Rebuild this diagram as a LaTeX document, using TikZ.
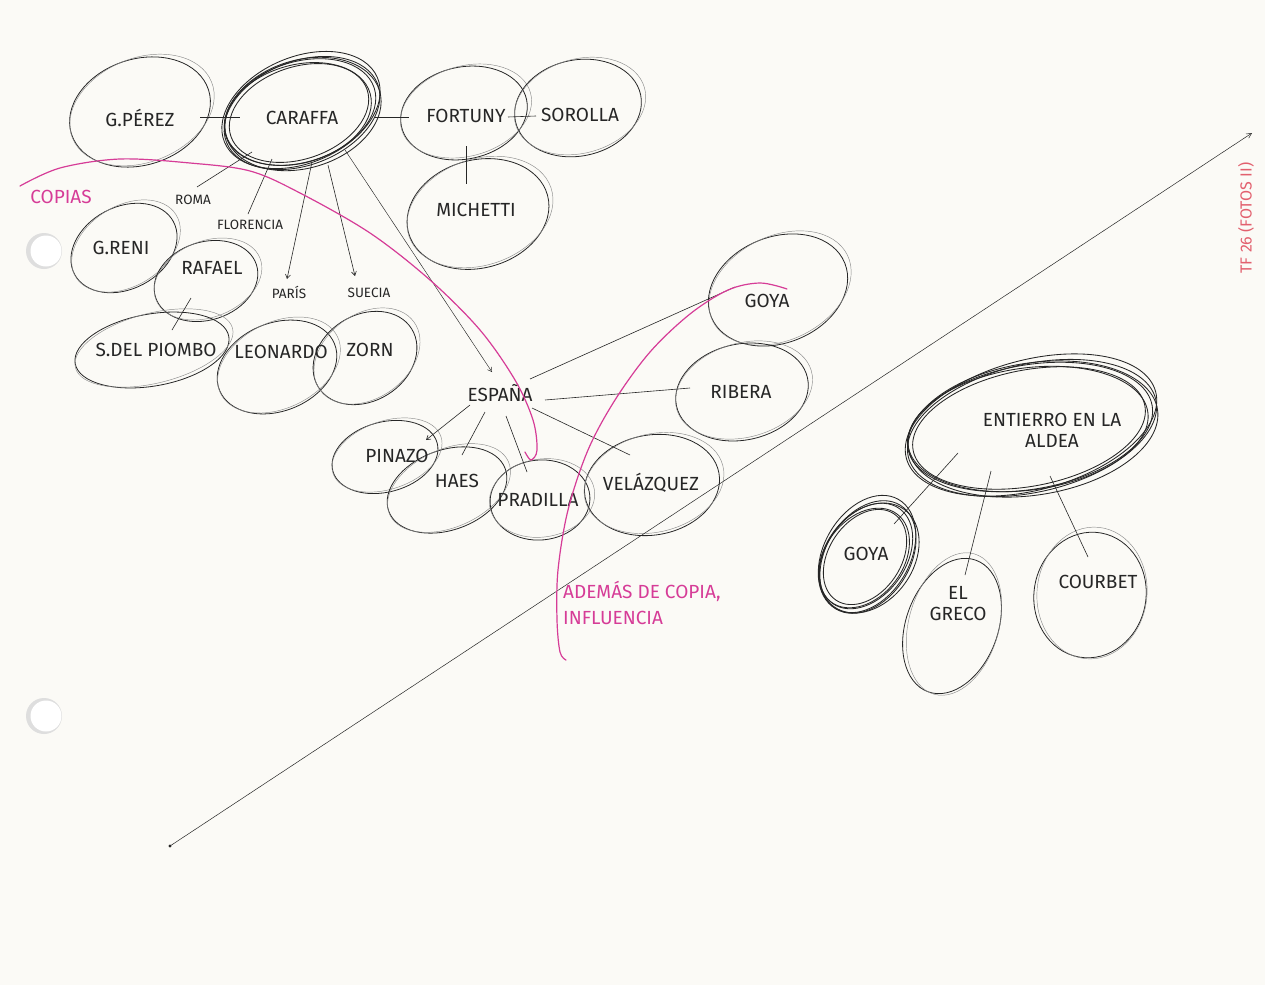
\documentclass[tikz,border=0pt]{standalone}
\usepackage{fontspec}
\setmainfont{Fira Sans}
\usetikzlibrary{arrows.meta}
\definecolor{paper}{HTML}{FBFAF6}
\definecolor{ink}{HTML}{262626}
\definecolor{inkfaint}{HTML}{8C8C8C}
\definecolor{marker}{HTML}{D63C97}
\definecolor{redpen}{HTML}{E2606E}
\tikzset{
  pen/.style={draw=ink, line width=0.8pt},
  ghost/.style={draw=inkfaint, line width=0.45pt},
  wire/.style={draw=ink, line width=0.6pt},
  tip/.style={-{Straight Barb[length=4pt,width=5pt]}},
  label/.style={font=\fontsize{19}{21}\selectfont, text=ink, inner sep=1pt},
  place/.style={font=\fontsize{13.5}{15}\selectfont, text=ink, inner sep=1pt},
  hl/.style={draw=marker, line width=1.2pt, line cap=round},
  hltext/.style={font=\fontsize{19}{22}\selectfont, text=marker, inner sep=1pt},
}
% a hand-drawn bubble: centre x, centre y, x radius, y radius, tilt
\newcommand\bubble[5]{%
  \draw[pen, rotate around={#5:(#1,#2)}] (#1,#2) ellipse [x radius=#3, y radius=#4];
  \draw[ghost, rotate around={#5+4:(#1+2,#2-2)}] (#1+2,#2-2) ellipse [x radius=#3+3, y radius=#4-1];
}
% a bubble gone over several times
\newcommand\heavybubble[5]{%
  \foreach \dx/\dy/\da/\drx/\dry in {0/0/0/0/0, 2/1/3/3/2, -2/2/-2/-3/-1, 1/-2/5/5/3, -1/1/1/-6/-4, 3/2/-1/2/4}{
    \draw[pen, line width=0.85pt, rotate around={#5+\da:(#1+\dx,#2+\dy)}] (#1+\dx,#2+\dy) ellipse [x radius=#3+\drx, y radius=#4+\dry];
  }
}
\begin{document}
\begin{tikzpicture}[x=1pt, y=-1pt]
\useasboundingbox (0,0) rectangle (1265,985);
\fill[paper] (0,0) rectangle (1265,985);

% punched holes of the sheet
\foreach \hy in {251,716}{
  \fill[black!13] (44,\hy) circle (18);
  \fill[white] (46,\hy) circle (15.5);
}

% ---------- bubbles ----------
\bubble{140}{112}{72}{53}{18}
\heavybubble{300}{112}{78}{50}{18}
\bubble{464}{113}{64}{46}{12}
\bubble{578}{108}{64}{48}{12}
\bubble{478}{214}{72}{54}{15}
\bubble{124}{248}{56}{41}{28}
\bubble{206}{281}{53}{39}{18}
\bubble{152}{350}{78}{36}{10}
\bubble{277}{367}{62}{44}{22}
\bubble{365}{358}{55}{43}{32}
\bubble{778}{290}{72}{53}{22}
\bubble{742}{392}{67}{48}{12}
\bubble{385}{457}{54}{35}{15}
\bubble{447}{490}{62}{40}{20}
\bubble{540}{500}{50}{40}{5}
\bubble{652}{485}{68}{50}{10}
\heavybubble{1030}{427}{124}{62}{10}
\heavybubble{866}{556}{58}{40}{55}
\bubble{952}{626}{70}{46}{70}
\bubble{1090}{595}{63}{56}{80}

% ---------- labels ----------
\node[label] (gperez) at (140,118) {G.PÉREZ};
\node[label] (caraffa) at (302,118) {CARAFFA};
\node[label] (fortuny) at (466,116) {FORTUNY};
\node[label] (sorolla) at (580,115) {SOROLLA};
\node[label] (michetti) at (476,210) {MICHETTI};
\node[place] (roma) at (193,200) {ROMA};
\node[place] (florencia) at (250,225) {FLORENCIA};
\node[place] (paris) at (289,292) {PARÍS};
\node[place] (suecia) at (369,293) {SUECIA};
\node[label] (greni) at (121,248) {G.RENI};
\node[label] (rafael) at (212,268) {RAFAEL};
\node[label] (piombo) at (156,350) {S.DEL PIOMBO};
\node[label] (leonardo) at (281,352) {LEONARDO};
\node[label] (zorn) at (370,350) {ZORN};
\node[label] (espana) at (500,393) {ESPAÑA};
\node[label] (goya) at (767,301) {GOYA};
\node[label] (ribera) at (741,392) {RIBERA};
\node[label] (pinazo) at (397,456) {PINAZO};
\node[label] (haes) at (457,481) {HAES};
\node[label] (pradilla) at (538,500) {PRADILLA};
\node[label] (velazquez) at (651,483) {VELÁZQUEZ};
\node[label, align=center] (entierro) at (1052,430) {ENTIERRO EN LA\\ALDEA};
\node[label] (goyab) at (866,554) {GOYA};
\node[label, align=center] (greco) at (958,604) {EL\\GRECO};
\node[label] (courbet) at (1098,582) {COURBET};

% ---------- connector ends ----------
\coordinate (gp-e) at (200,117);  \coordinate (cf-w) at (240,117);
\coordinate (cf-e) at (375,117);  \coordinate (ft-w) at (409,117);
\coordinate (ft-e) at (508,117);  \coordinate (so-w) at (536,116);
\coordinate (ft-s) at (466,146);  \coordinate (mi-n) at (466,184);
\coordinate (cf-1) at (252,152);  \coordinate (ro-t) at (197,187);
\coordinate (cf-2) at (272,159);  \coordinate (fl-t) at (248,214);
\coordinate (cf-3) at (312,162);  \coordinate (pa-t) at (287,279);
\coordinate (cf-4) at (328,165);  \coordinate (su-t) at (355,276);
\coordinate (cf-5) at (345,150);  \coordinate (es-n) at (492,372);
\coordinate (ra-s) at (191,298);  \coordinate (pi-n) at (172,330);
\coordinate (go-w) at (735,287);  \coordinate (es-ne) at (530,379);
\coordinate (ri-w) at (690,388);  \coordinate (es-e) at (545,400);
\coordinate (es-se) at (532,408); \coordinate (ve-n) at (630,455);
\coordinate (es-s) at (506,416);  \coordinate (pr-n) at (527,472);
\coordinate (es-sw) at (485,412); \coordinate (ha-n) at (462,455);
\coordinate (es-w) at (470,405);  \coordinate (pz-n) at (426,440);
\coordinate (en-1) at (958,453);  \coordinate (gb-n) at (894,524);
\coordinate (en-2) at (991,471);  \coordinate (gr-n) at (965,575);
\coordinate (en-3) at (1050,476); \coordinate (co-n) at (1088,557);

% ---------- connectors ----------
\draw[wire] (gp-e) -- (cf-w);
\draw[wire] (cf-e) -- (ft-w);
\draw[wire] (ft-e) -- (so-w);
\draw[wire] (ft-s) -- (mi-n);
\draw[wire] (cf-1) -- (ro-t);
\draw[wire] (cf-2) -- (fl-t);
\draw[wire, tip] (cf-3) -- (pa-t);
\draw[wire, tip] (cf-4) -- (su-t);
\draw[wire, line width=0.45pt, tip] (cf-5) -- (es-n);
\draw[wire] (ra-s) -- (pi-n);
\draw[wire] (go-w) -- (es-ne);
\draw[wire] (ri-w) -- (es-e);
\draw[wire] (es-se) -- (ve-n);
\draw[wire] (es-s) -- (pr-n);
\draw[wire] (es-sw) -- (ha-n);
\draw[wire, tip] (es-w) -- (pz-n);
\draw[wire] (en-1) -- (gb-n);
\draw[wire] (en-2) -- (gr-n);
\draw[wire] (en-3) -- (co-n);

% long diagonal axis
\coordinate (axis-a) at (170,846);
\coordinate (axis-b) at (1252,133);
\fill[ink] (axis-a) circle (1.6);
\draw[wire, line width=0.5pt, -{Straight Barb[length=5pt,width=5pt]}] (axis-a) -- (axis-b);

% ---------- marker notes ----------
\node[hltext] (copias) at (61,197) {COPIAS};
\draw[hl] plot[smooth, tension=0.55] coordinates {(20,186) (60,168) (120,159) (190,163) (250,171) (300,193) (370,233) (430,280) (480,330) (515,380) (533,420) (537,450) (531,460) (525,452)};
\draw[hl] plot[smooth, tension=0.55] coordinates {(787,289) (760,283) (728,290) (690,314) (650,352) (615,400) (588,450) (568,510) (558,570) (557,620) (560,652) (566,660)};
\node[hltext, anchor=west] (ademas) at (562,591) {ADEMÁS DE COPIA,};
\node[hltext, anchor=west] (influencia) at (562,618) {INFLUENCIA};

% page reference along the right edge
\node[font=\fontsize{16}{18}\selectfont, text=redpen, rotate=90] (ref) at (1246,218) {TF 26 (FOTOS II)};
\end{tikzpicture}
\end{document}
